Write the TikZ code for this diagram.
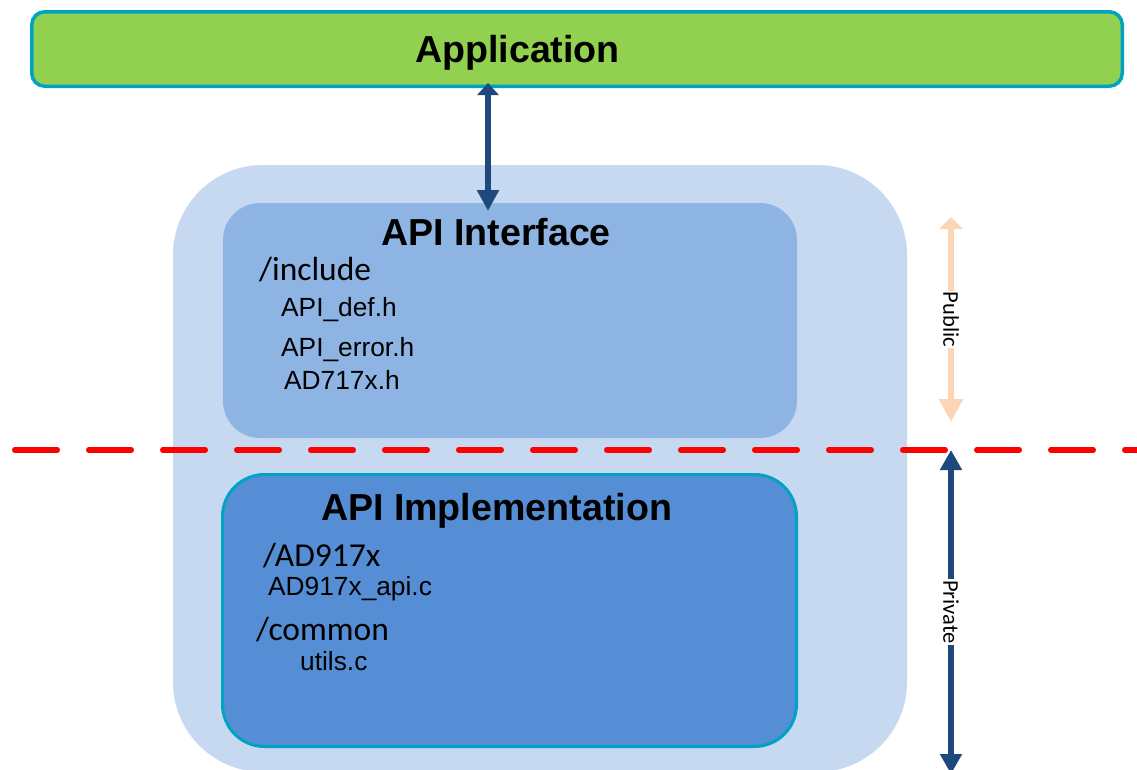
\documentclass[tikz,border=0pt]{standalone}
\usepackage{fontspec}
\setmainfont{Liberation Sans}
\newfontfamily\calfont{Carlito}
\usetikzlibrary{arrows.meta}
\definecolor{appgreen}{HTML}{92D050}
\definecolor{tealb}{HTML}{00A3C2}
\definecolor{outerblue}{HTML}{C6D9F1}
\definecolor{ifaceblue}{HTML}{8EB4E3}
\definecolor{implblue}{HTML}{558ED5}
\definecolor{darkblue}{HTML}{1F497D}
\definecolor{peach}{HTML}{FCD5B5}
\begin{document}
\begin{tikzpicture}[x=1pt,y=-1pt,
 box/.style={rectangle, inner sep=0pt, outer sep=0pt},
 title/.style={font=\fontsize{37.6}{40}\selectfont\bfseries, anchor=base, inner sep=0pt},
 dirtext/.style={font=\calfont\fontsize{33.5}{36}\selectfont, anchor=base west, inner sep=0pt},
 filetext/.style={font=\fontsize{26.3}{28}\selectfont, anchor=base west, inner sep=0pt},
 side/.style={font=\calfont\fontsize{22.5}{24}\selectfont, text=black, rotate=-90, fill=white, inner sep=1pt},
 dbl/.style={draw=darkblue, fill=darkblue, line width=5.5pt, arrows={Triangle[length=12pt,width=21pt]-Triangle[length=21pt,width=21pt]}},
 pub/.style={draw=peach, fill=peach, line width=6pt, arrows={Triangle[length=12pt,width=23pt]-Triangle[length=23pt,width=23pt]}},
 priv/.style={draw=darkblue, fill=darkblue, line width=5.5pt, arrows={Triangle[length=20pt,width=21pt]-Triangle[length=20pt,width=21pt]}},
]
\useasboundingbox (0,0) rectangle (1137,769);
\node[box, fill=outerblue, minimum width=734pt, minimum height=607pt, rounded corners=90pt] (outer) at (540,468.5) {};
\node[box, fill=ifaceblue, minimum width=574pt, minimum height=235pt, rounded corners=37pt] (iface) at (510,320.5) {};
\node[box, fill=implblue, draw=tealb, line width=3pt, minimum width=574pt, minimum height=272pt, rounded corners=42pt] (impl) at (509.5,610.5) {};
\node[box, fill=appgreen, draw=tealb, line width=3.5pt, minimum width=1090.5pt, minimum height=74.5pt, rounded corners=13pt] (app) at (577,49) {};

\node[title] (apptitle) at (517.5,62) {Application};
\node[title] (ifacetitle) at (496,245) {API Interface};
\node[dirtext] (inc) at (259,280) {/include};
\node[filetext] (f1) at (281,316) {API\_def.h};
\node[filetext] (f2) at (281,356) {API\_error.h};
\node[filetext] (f3) at (284,389) {AD717x.h};
\node[title] (impltitle) at (496.5,520) {API Implementation};
\node[dirtext] (ad) at (263,566.5) {/AD917x};
\node[filetext] (f4) at (268,595.5) {AD917x\_api.c};
\node[dirtext] (com) at (256,640) {/common};
\node[filetext] (f5) at (300,670) {utils.c};

\coordinate (dl) at (14.75,450);
\coordinate (dr) at (1150,450);
\draw[red, line width=5.5pt, line cap=round, dash pattern=on 42.5pt off 31.5pt] (dl) -- (dr);

\coordinate (ax) at (488,0);
\draw[dbl, shorten <=-3.25pt, shorten >=-8pt] (app.south -| ax) -- (iface.north -| ax);

\coordinate (pubtop) at (951,217);
\coordinate (pubbot) at (951,422);
\draw[pub] (pubtop) -- (pubbot) node[side, midway] (publabel) {Public};

\coordinate (privtop) at (951,450);
\coordinate (privbot) at (951,774);
\draw[priv] (privtop) -- (privbot) node[side, midway] (privlabel) {Private};
\end{tikzpicture}
\end{document}
